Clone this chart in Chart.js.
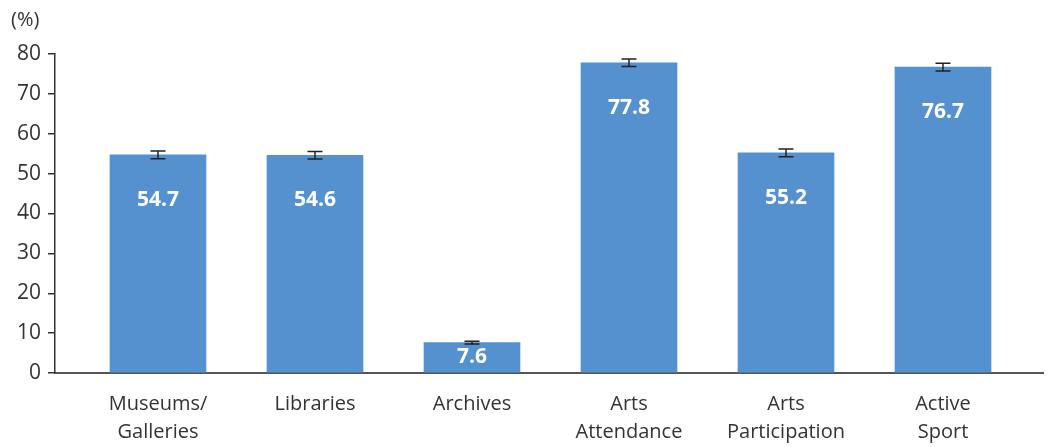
<!DOCTYPE html>
<html>
<head>
<meta charset="utf-8">
<script src="https://cdn.jsdelivr.net/npm/chart.js@4"></script>
<style>
  html, body { margin: 0; padding: 0; background: #fff; }
  #wrap { width: 1052px; height: 447px; position: relative; }
</style>
</head>
<body>
<div id="wrap"><canvas id="myChart"></canvas></div>
<script>
// données
const categories = [['Museums/', 'Galleries'], ['Libraries'], ['Archives'], ['Arts', 'Attendance'], ['Arts', 'Participation'], ['Active', 'Sport']];
const values = [54.7, 54.6, 7.6, 77.8, 55.2, 76.7];
const errors = [0.95, 0.95, 0.35, 0.95, 0.95, 0.95];
const yTicks = [0, 10, 20, 30, 40, 50, 60, 70, 80];

const FONT = "'Open Sans', 'Noto Sans', sans-serif";
const TEXT = '#333333';

// barres d'erreur + étiquettes
const extras = {
    id: 'extras',
    afterDatasetsDraw(chart) {
        const ctx = chart.ctx;
        const meta = chart.getDatasetMeta(0);
        const y = chart.scales.y;
        meta.data.forEach((bar, i) => {
            const x = bar.x;
            const yHi = y.getPixelForValue(values[i] + errors[i]);
            const yLo = y.getPixelForValue(values[i] - errors[i]);
            ctx.save();
            ctx.strokeStyle = '#222';
            ctx.lineWidth = 1.5;
            ctx.beginPath();
            ctx.moveTo(x, yHi); ctx.lineTo(x, yLo);
            ctx.moveTo(x - 7.5, yHi); ctx.lineTo(x + 7.5, yHi);
            ctx.moveTo(x - 7.5, yLo); ctx.lineTo(x + 7.5, yLo);
            ctx.stroke();

            const top = bar.y, base = bar.base;
            const ly = Math.min(top + 45, (top + base) / 2);
            ctx.fillStyle = '#fff';
            ctx.font = 'bold 21px ' + FONT;
            ctx.textAlign = 'center';
            ctx.textBaseline = 'middle';
            ctx.fillText(values[i].toFixed(1), x, ly);
            ctx.restore();
        });
        ctx.save();
        ctx.fillStyle = TEXT;
        ctx.font = '20px ' + FONT;
        ctx.textAlign = 'left';
        ctx.textBaseline = 'middle';
        ctx.fillText('(%)', 11, 20);
        ctx.restore();
    }
};

const ctx = document.getElementById('myChart').getContext('2d');
const myChart = new Chart(ctx, {
    type: 'bar',
    data: {
        datasets: [{
            data: values.map((v, i) => ({ x: i, y: v })),
            backgroundColor: '#5591CF',
            barThickness: 96
        }]
    },
    options: {
        responsive: true,
        maintainAspectRatio: false,
        animation: false,
        layout: { padding: { top: 54, right: 9, left: 0, bottom: 0 } },
        plugins: { legend: { display: false }, tooltip: { enabled: false } },
        scales: {
            x: {
                type: 'linear',
                offset: false,
                min: -0.656,
                max: 5.637,
                afterBuildTicks: (axis) => { axis.ticks = categories.map((c, i) => ({ value: i })); },
                afterFit: (axis) => { axis.height = 74; },
                grid: { display: false, drawTicks: false, offset: false },
                border: { display: true, color: '#555', width: 2 },
                ticks: {
                    color: TEXT,
                    font: { family: FONT, size: 20, lineHeight: 1.4 },
                    padding: 17,
                    autoSkip: false,
                    maxRotation: 0,
                    callback: (v) => categories[v]
                }
            },
            y: {
                min: 0,
                max: 80,
                afterBuildTicks: (axis) => { axis.ticks = yTicks.map(v => ({ value: v })); },
                afterFit: (axis) => { axis.width = 55; },
                grid: { drawOnChartArea: false, drawTicks: true, tickLength: 7, color: '#333', lineWidth: 1.5 },
                border: { display: true, color: '#333', width: 1.5 },
                ticks: {
                    color: TEXT,
                    font: { family: FONT, size: 21 },
                    padding: 7
                }
            }
        }
    },
    plugins: [extras]
});
</script>
</body>
</html>
